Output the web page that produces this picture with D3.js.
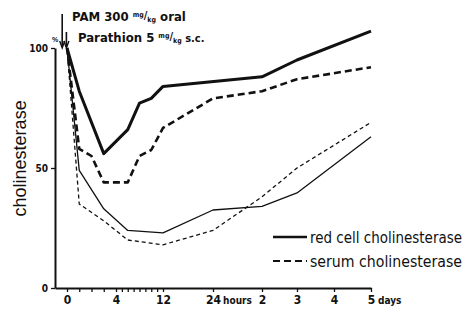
<!DOCTYPE html>
<html>
<head>
<meta charset="utf-8">
<script src="https://cdn.jsdelivr.net/npm/d3@7"></script>
<style>
  body { margin: 0; background: #fff; }
  text { fill: #111; }
  .narrow { font-family: "Liberation Sans Narrow", "DejaVu Sans Condensed", "Liberation Sans", sans-serif; }
</style>
</head>
<body>
<svg id="chart"></svg>
<script>
// hours after dosing
const redPamHours = [0, 1, 3, 6, 8, 10, 12, 48, 72, 120];
const redPamValues = [100, 82, 56, 66, 77, 79, 84, 88, 95, 107];

const serumPamHours = [0, 1, 2, 3, 6, 8, 10, 12, 24, 48, 72, 120];
const serumPamValues = [100, 58, 55, 44, 44, 55, 57.5, 66.7, 79, 82, 87, 92];

const redHours = [0, 1, 3, 6, 12, 24, 48, 72, 120];
const redValues = [100, 49, 33, 24, 23, 32.5, 34, 39.6, 63];

const serumHours = [0, 1, 3, 6, 12, 24, 48, 72, 120];
const serumValues = [100, 35, 28, 20, 18, 24, 38, 50, 69];

const xTickHours = [0, 1, 2, 3, 4, 5, 6, 7, 8, 9, 10, 11, 12, 24, 48, 72, 96, 120];
const xTickLabels = {0: '0', 4: '4', 12: '12', 24: '24', 48: '2', 72: '3', 96: '4', 120: '5'};
const yTicks = [0, 50, 100];

const legendNames = ['red cell cholinesterase', 'serum cholinesterase'];

const w = 466, h = 318;

// broken time axis: hours stretched at the start, days at the end
const xScale = d3.scaleLinear()
    .domain([-1, 0, 4, 12, 24, 48, 72, 96, 120])
    .range([55, 67, 116, 163, 213, 262, 297, 334, 371]);

const yScale = d3.scaleLinear()
    .domain([0, 100])
    .range([288, 48]);

const chart = d3.select('#chart').attr('width', w).attr('height', h);

// axes
const xAxis = chart.append('g')
    .attr('transform', `translate(0,${yScale(0)})`)
    .call(d3.axisBottom(xScale).tickValues(xTickHours).tickSize(4).tickSizeOuter(0).tickFormat(d => xTickLabels[d] || ''));
xAxis.select('.domain').attr('stroke', '#111').attr('stroke-width', 2);
xAxis.selectAll('.tick line').attr('stroke', '#111').attr('stroke-width', 1.3);
xAxis.selectAll('.tick text')
    .attr('class', 'narrow')
    .attr('font-size', 12).attr('font-weight', 'bold');

xAxis.append('text')
    .attr('class', 'narrow')
    .attr('x', (xScale(24) + xScale(48)) / 2).attr('y', 16)
    .attr('text-anchor', 'middle').attr('font-size', 10).attr('font-weight', 'bold')
    .attr('fill', '#111')
    .text('hours');
xAxis.append('text')
    .attr('class', 'narrow')
    .attr('x', xScale(120) + 7).attr('y', 16)
    .attr('text-anchor', 'start').attr('font-size', 10).attr('font-weight', 'bold')
    .attr('fill', '#111')
    .text('days');

const yAxis = chart.append('g')
    .attr('transform', `translate(${xScale(-1)},0)`)
    .call(d3.axisLeft(yScale).tickValues(yTicks).tickSize(4).tickSizeOuter(0));
yAxis.select('.domain').attr('stroke', '#111').attr('stroke-width', 2);
yAxis.selectAll('.tick line').attr('stroke', '#111').attr('stroke-width', 1.3);
yAxis.selectAll('.tick text')
    .attr('class', 'narrow')
    .attr('font-size', 10).attr('font-weight', 'bold').attr('x', -7).attr('dy', '0.35em');

chart.append('text')
    .attr('x', xScale(-1) - 3).attr('y', yScale(100) - 6)
    .attr('font-size', 7).attr('font-weight', 'bold').attr('font-family', 'Liberation Sans, sans-serif')
    .text('%');

chart.append('text')
    .attr('transform', `translate(26,${yScale(54)}) rotate(-90)`)
    .attr('text-anchor', 'middle')
    .attr('font-family', 'Liberation Sans, Arial, sans-serif')
    .attr('font-size', 18)
    .text('cholinesterase');

// series
const line = d3.line()
    .x(d => xScale(d[0]))
    .y(d => yScale(d[1]));

const series = [
    {hours: redPamHours, values: redPamValues, width: 3, dash: null},
    {hours: serumPamHours, values: serumPamValues, width: 2.6, dash: '7,4'},
    {hours: redHours, values: redValues, width: 1.3, dash: null},
    {hours: serumHours, values: serumValues, width: 1.3, dash: '4,3'}
];

series.forEach(s => {
    chart.append('path')
        .datum(d3.zip(s.hours, s.values))
        .attr('d', line)
        .attr('fill', 'none')
        .attr('stroke', '#111')
        .attr('stroke-width', s.width)
        .attr('stroke-dasharray', s.dash)
        .attr('stroke-linejoin', 'round');
});

// dosing arrows
const arrows = [{x: xScale(-0.4), top: 14}, {x: xScale(-0.05), top: 32}];
arrows.forEach(a => {
    chart.append('line')
        .attr('x1', a.x).attr('x2', a.x)
        .attr('y1', a.top).attr('y2', yScale(100) - 1)
        .attr('stroke', '#111').attr('stroke-width', 1.6);
    chart.append('path')
        .attr('d', `M${a.x - 2.5},${yScale(100) - 7} L${a.x},${yScale(100)} L${a.x + 2.5},${yScale(100) - 7}`)
        .attr('fill', 'none').attr('stroke', '#111').attr('stroke-width', 1.4);
});

const dose1 = chart.append('text')
    .attr('class', 'narrow')
    .attr('x', 72).attr('y', 21)
    .attr('font-size', 13).attr('font-weight', 'bold');
dose1.append('tspan').text('PAM 300 ');
dose1.append('tspan').attr('font-size', 7).attr('dy', -4).text('mg');
dose1.append('tspan').attr('font-size', 11).attr('dy', 2).text('/');
dose1.append('tspan').attr('font-size', 7).attr('dy', 3).text('kg');
dose1.append('tspan').attr('dy', -1).text(' oral');

const dose2 = chart.append('text')
    .attr('class', 'narrow')
    .attr('x', 78).attr('y', 42)
    .attr('font-size', 13).attr('font-weight', 'bold');
dose2.append('tspan').text('Parathion 5 ');
dose2.append('tspan').attr('font-size', 7).attr('dy', -4).text('mg');
dose2.append('tspan').attr('font-size', 11).attr('dy', 2).text('/');
dose2.append('tspan').attr('font-size', 7).attr('dy', 3).text('kg');
dose2.append('tspan').attr('font-size', 11).attr('dy', -1).text(' s.c.');

// legend
const legend = chart.append('g').attr('transform', 'translate(273,237)');
legendNames.forEach((name, i) => {
    legend.append('line')
        .attr('x1', 0).attr('x2', 34)
        .attr('y1', i * 24).attr('y2', i * 24)
        .attr('stroke', '#111')
        .attr('stroke-width', i === 0 ? 2.6 : 2.2)
        .attr('stroke-dasharray', i === 0 ? null : '7,4');
    legend.append('text')
        .attr('class', 'narrow')
        .attr('x', 37).attr('y', i * 24 + 6)
        .attr('font-size', 15)
        .attr('textLength', 152)
        .attr('lengthAdjust', 'spacingAndGlyphs')
        .text(name);
});
</script>
</body>
</html>
